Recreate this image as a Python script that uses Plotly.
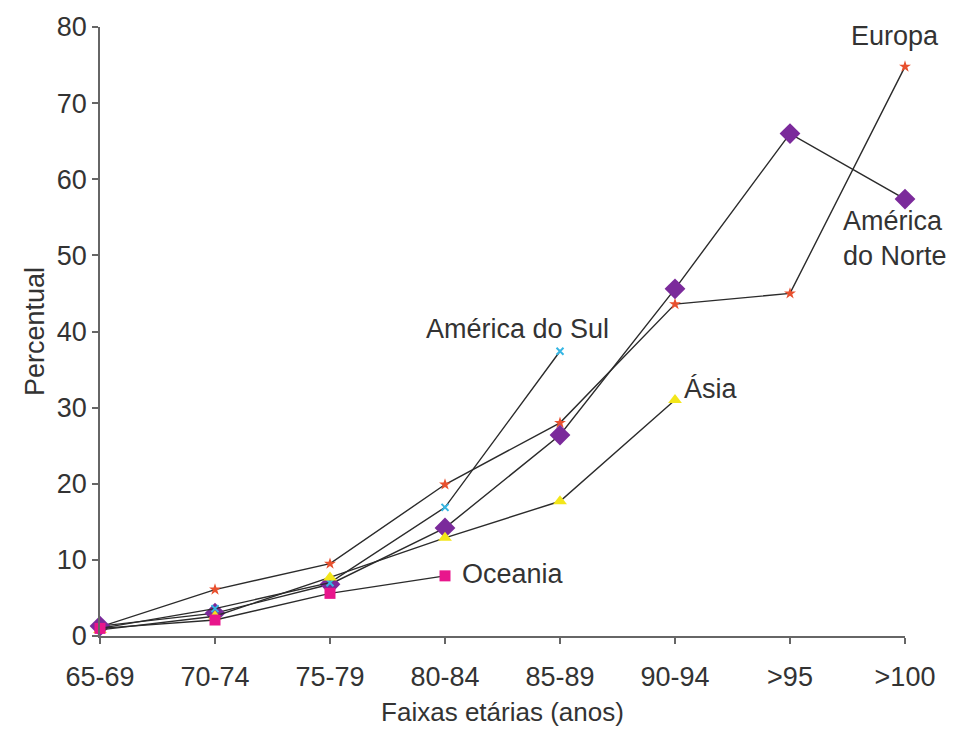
import plotly.graph_objects as go

faixas = ["65-69", "70-74", "75-79", "80-84", "85-89", "90-94", ">95", ">100"]

europa = [1.2, 6.1, 9.5, 19.9, 28.0, 43.6, 45.0, 74.8]
america_norte = [1.3, 3.0, 6.8, 14.2, 26.4, 45.6, 66.0, 57.4]
america_sul = [1.0, 3.6, 7.0, 16.9, 37.4]
asia = [0.8, 2.6, 7.7, 12.9, 17.7, 31.0]
oceania = [1.0, 2.1, 5.6, 7.9]

series = [
    ("Europa", europa, "star", "#e8502e", 9),
    ("América do Norte", america_norte, "diamond", "#7b2a9b", 16),
    ("América do Sul", america_sul, "x-thin-open", "#35b6e3", 7),
    ("Ásia", asia, "triangle-up", "#f3e61a", 12),
    ("Oceania", oceania, "square", "#e8168c", 11),
]

fig = go.Figure()
for name, vals, symbol, color, size in series:
    fig.add_trace(go.Scatter(
        x=list(range(len(vals))), y=vals, name=name, mode="lines+markers",
        line=dict(color="#2b2b2b", width=1.4),
        marker=dict(symbol=symbol, color=color, size=size,
                    line=dict(color=color, width=2 if symbol.startswith("x") else 0)),
        cliponaxis=False, showlegend=False,
    ))

family = "Liberation Sans, Arial, sans-serif"
font = dict(family=family, size=27, color="#333333")
labels = [
    ("Europa", 6.91, 78.8, "center"),
    ("América<br>do Norte", 6.91, 52.2, "center"),
    ("América do Sul", 3.63, 40.3, "center"),
    ("Ásia", 5.31, 32.4, "center"),
    ("Oceania", 3.13, 8.2, "left"),
]
for text, x, y, anchor in labels:
    fig.add_annotation(x=x, y=y, xref="x", yref="y", text=text, showarrow=False,
                       xanchor=anchor, yanchor="middle", font=font, align="left")

fig.update_layout(
    width=956, height=736,
    margin=dict(l=100, r=51, t=20, b=100),
    paper_bgcolor="white", plot_bgcolor="white",
    font=font,
    xaxis=dict(
        tickmode="array", tickvals=list(range(len(faixas))), ticktext=faixas,
        range=[0, 7], showgrid=False, zeroline=False,
        showline=True, linecolor="#666666", linewidth=1.5,
        ticks="outside", ticklen=6, tickcolor="#666666", tickwidth=1.5,
        tickfont=font, ticklabelstandoff=10,
        title=dict(text="Faixas etárias (anos)", font=dict(family=family, size=26, color="#333333"), standoff=12),
    ),
    yaxis=dict(
        range=[0, 80], tickvals=[0, 10, 20, 30, 40, 50, 60, 70, 80],
        showgrid=False, zeroline=False,
        showline=True, linecolor="#666666", linewidth=1.5,
        ticks="outside", ticklen=6, tickcolor="#666666", tickwidth=1.5,
        tickfont=font,
        title=dict(text="Percentual", font=dict(family=family, size=27, color="#333333"), standoff=4),
    ),
)

fig.write_html("out.html")
